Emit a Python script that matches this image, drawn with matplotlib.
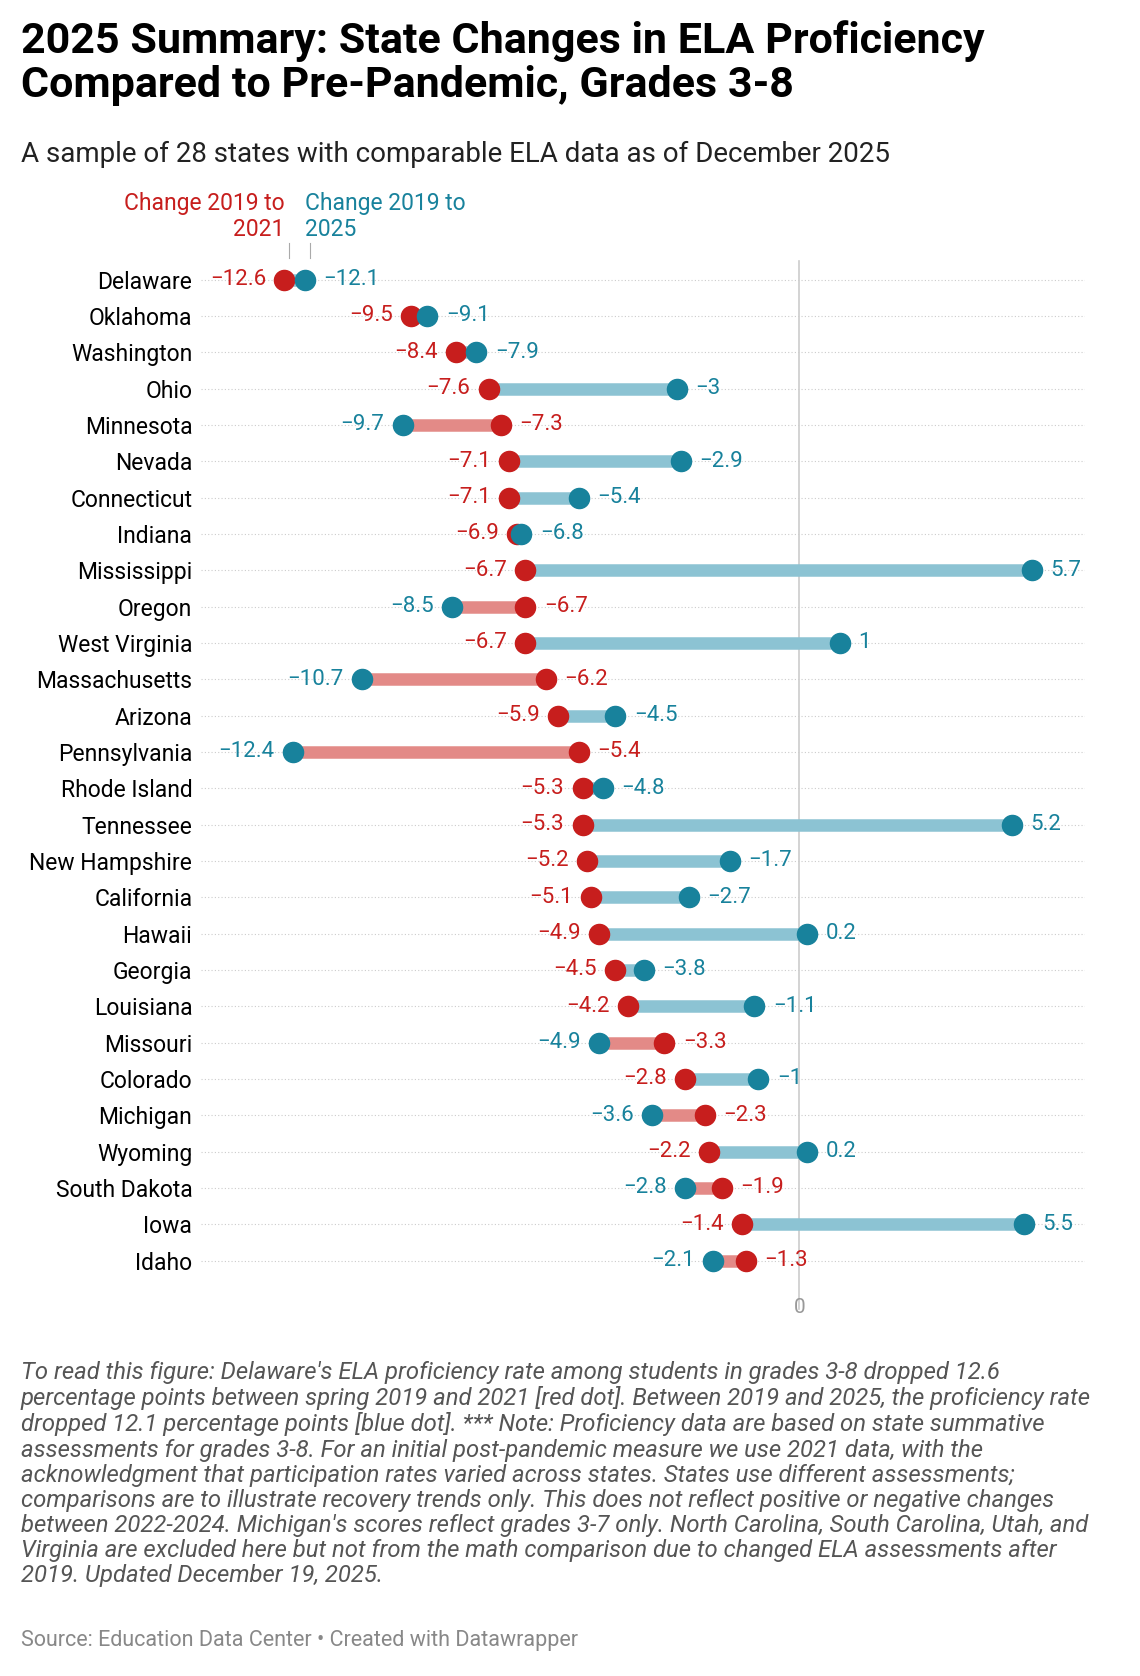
import matplotlib.pyplot as plt

states = ["Delaware", "Oklahoma", "Washington", "Ohio", "Minnesota", "Nevada", "Connecticut",
          "Indiana", "Mississippi", "Oregon", "West Virginia", "Massachusetts", "Arizona",
          "Pennsylvania", "Rhode Island", "Tennessee", "New Hampshire", "California", "Hawaii",
          "Georgia", "Louisiana", "Missouri", "Colorado", "Michigan", "Wyoming", "South Dakota",
          "Iowa", "Idaho"]
chg_2021 = [-12.6, -9.5, -8.4, -7.6, -7.3, -7.1, -7.1, -6.9, -6.7, -6.7, -6.7, -6.2, -5.9, -5.4,
            -5.3, -5.3, -5.2, -5.1, -4.9, -4.5, -4.2, -3.3, -2.8, -2.3, -2.2, -1.9, -1.4, -1.3]
chg_2025 = [-12.1, -9.1, -7.9, -3, -9.7, -2.9, -5.4, -6.8, 5.7, -8.5, 1, -10.7, -4.5, -12.4,
            -4.8, 5.2, -1.7, -2.7, 0.2, -3.8, -1.1, -4.9, -1, -3.6, 0.2, -2.8, 5.5, -2.1]

RED, BLUE = "#c71e1d", "#18829c"
LRED, LBLUE = "#e38a87", "#8cc3d3"
plt.rcParams['font.family'] = ['Roboto', 'DejaVu Sans']

fig = plt.figure(figsize=(11.4, 16.76), dpi=100)
ax = fig.add_axes([0.176, 0.237, 0.776, 0.607])

def fmt(v):
    s = f"{abs(v):g}"
    return ("\u2212" + s) if v < 0 else s

for i, (a, b) in enumerate(zip(chg_2021, chg_2025)):
    ax.plot([a, b], [i, i], color=LBLUE if b > a else LRED, lw=9, solid_capstyle="butt", zorder=2)
    ax.scatter([a], [i], s=210, color=RED, zorder=3)
    ax.scatter([b], [i], s=210, color=BLUE, zorder=4)
    left, right = (a, RED), (b, BLUE)
    if b < a:
        left, right = (b, BLUE), (a, RED)
    ax.text(left[0] - 0.45, i, fmt(left[0]), color=left[1], ha="right", va="center", fontsize=16)
    ax.text(right[0] + 0.45, i, fmt(right[0]), color=right[1], ha="left", va="center", fontsize=16)

ax.set_yticks(range(len(states)))
ax.set_yticklabels(states, fontsize=16.5)
ax.set_ylim(len(states) - 0.5, -0.5)
ax.set_xlim(-14.65, 7.0)
ax.set_xticks([0])
ax.set_xticklabels(["0"], fontsize=15, color="#999999")
ax.tick_params(length=0, pad=6)
ax.tick_params(axis="x", pad=14)
for s in ax.spines.values():
    s.set_visible(False)
ax.axvline(0, color="#cccccc", lw=1.2, zorder=1, ymin=-0.03, clip_on=False)
for i in range(len(states)):
    ax.axhline(i, color="#cccccc", lw=0.8, ls=(0, (1, 2)), zorder=0)

ax.text(-12.6, -1.05, "Change 2019 to\n2021", color=RED, ha="right", va="bottom", fontsize=16.5)
ax.text(-12.1, -1.05, "Change 2019 to\n2025", color=BLUE, ha="left", va="bottom", fontsize=16.5)
ax.plot([-12.6 + 0.12, -12.6 + 0.12], [-1.0, -0.6], color="#aaaaaa", lw=0.8, clip_on=False)
ax.plot([-12.1 + 0.12, -12.1 + 0.12], [-1.0, -0.6], color="#aaaaaa", lw=0.8, clip_on=False)

fig.text(0.018, 0.988, "2025 Summary: State Changes in ELA Proficiency\nCompared to Pre-Pandemic, Grades 3-8",
         fontsize=31, fontweight="bold", va="top", ha="left", linespacing=1.08)
fig.text(0.018, 0.908, "A sample of 28 states with comparable ELA data as of December 2025",
         fontsize=20, va="center", ha="left", color="#222222")

note = ("To read this figure: Delaware's ELA proficiency rate among students in grades 3-8 dropped 12.6\n"
        "percentage points between spring 2019 and 2021 [red dot]. Between 2019 and 2025, the proficiency rate\n"
        "dropped 12.1 percentage points [blue dot]. *** Note: Proficiency data are based on state summative\n"
        "assessments for grades 3-8. For an initial post-pandemic measure we use 2021 data, with the\n"
        "acknowledgment that participation rates varied across states. States use different assessments;\n"
        "comparisons are to illustrate recovery trends only. This does not reflect positive or negative changes\n"
        "between 2022-2024. Michigan's scores reflect grades 3-7 only. North Carolina, South Carolina, Utah, and\n"
        "Virginia are excluded here but not from the math comparison due to changed ELA assessments after\n"
        "2019. Updated December 19, 2025.")
fig.text(0.018, 0.188, note, fontsize=17.2, style="italic", color="#555555", va="top", ha="left",
         linespacing=1.12)
fig.text(0.018, 0.021, "Source: Education Data Center \u2022 Created with Datawrapper",
         fontsize=15.5, color="#888888", va="center", ha="left")

fig.savefig("out.png", dpi=100)
